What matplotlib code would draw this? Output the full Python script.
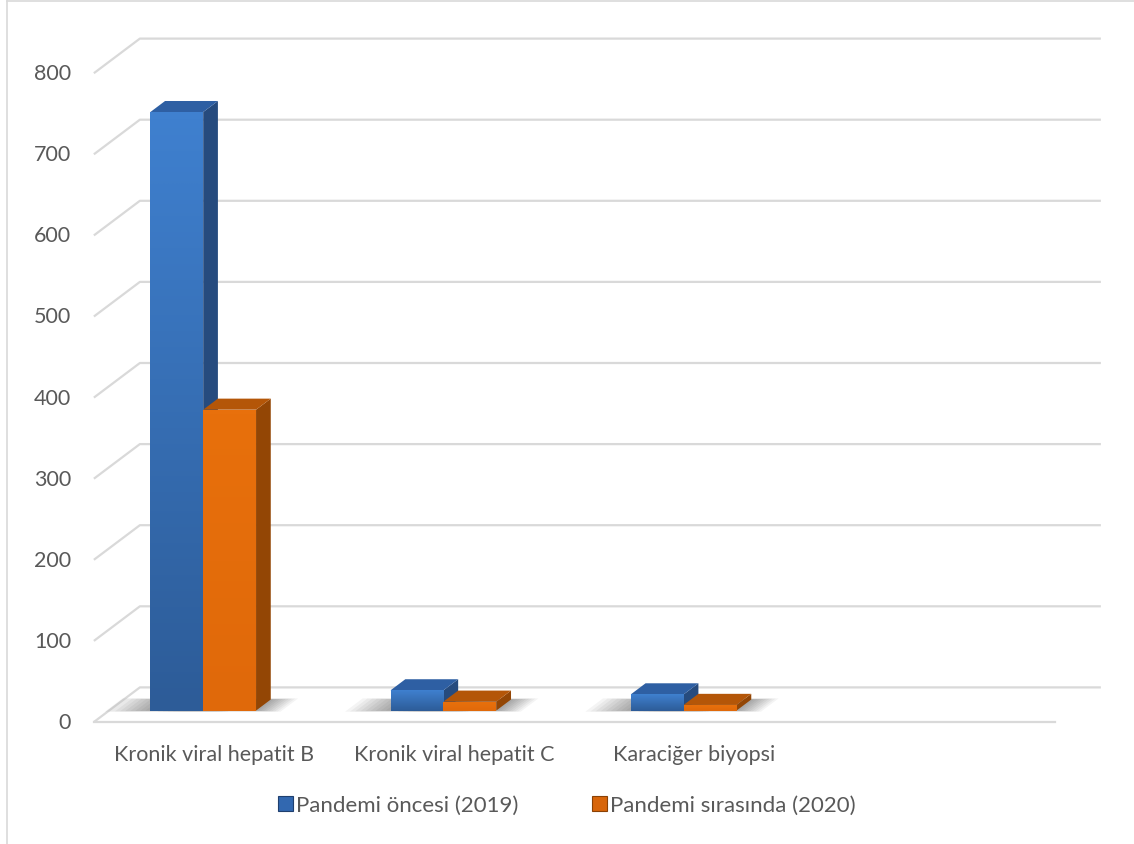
import numpy as np
import matplotlib
matplotlib.use("Agg")
import matplotlib.pyplot as plt
from matplotlib.patches import Polygon, Patch
from matplotlib.colors import LinearSegmentedColormap
from matplotlib.lines import Line2D

# data
categories = ["Kronik viral hepatit B", "Kronik viral hepatit C", "Karaciğer biyopsi"]
series_names = ["Pandemi öncesi (2019)", "Pandemi sırasında (2020)"]
before_2019 = [738, 25, 20]
during_2020 = [371, 11, 7]
y_ticks = [0, 100, 200, 300, 400, 500, 600, 700, 800]
n_slots = 4  # Excel left an empty 4th slot on the axis

# look
W, H = 1134, 845
grid_col = "#d9d9d9"
text_col = "#595959"
front_cols = [("#3f80cf", "#2d5c98"), ("#e8700c", "#e0690a")]
side_cols = ["#264b7e", "#934605"]
top_cols = ["#2e5fa3", "#b45608"]
legend_cols = ["#3268b0", "#d8650a"]
legend_edge = ["#1f3f6e", "#8a4105"]
FONT = ["Lato", "DejaVu Sans"]
FS = 15.5
FS_LEG = 16

# pseudo 3d geometry (category units / value units)
PX_X = 240.25          # pixels per category
PX_Y = 0.811           # pixels per value unit
X0, Y0 = 214, 723      # pixel of category 0 / value 0 at the front
DX, DY = 46 / PX_X, 34.6 / PX_Y   # full depth of the floor
F0, F1 = 0.33, 0.65    # bar depth range (fraction of floor depth)
BAR_W = 0.22
SHIFT = -0.045         # front faces pair centre vs category centre

plt.rcParams['font.family'] = FONT
fig = plt.figure(figsize=(W / 100, H / 100), dpi=100)
ax = fig.add_axes([0, 0, 1, 1])
ax.set_axis_off()


def proj(x, v, f):
    return (x + f * DX, v + f * DY)


# walls
left, right = -0.5, n_slots - 0.5
for v in y_ticks:
    a = proj(left, v, 0)
    b = proj(left, v, 1)
    c = proj(right, v, 1)
    ax.plot([a[0], b[0], c[0]], [a[1], b[1], c[1]], color=grid_col, lw=1.6,
            solid_capstyle="butt", zorder=1)
    ax.text(left - 0.095, v, str(v), ha="right", va="center", fontsize=FS,
            color=text_col)
ax.plot([left, right], [0, 0], color=grid_col, lw=1.6, zorder=1)


def bar(xl, val, k):
    xr = xl + BAR_W
    # soft shadow on the floor
    for s in range(9):
        e = 0.012 * (s + 1)
        pts = [proj(xl - e * 1.7, 0, F0 - e * 0.3), proj(xr + e * 1.0, 0, F0 - e * 0.3),
               proj(xr + e * 1.0, 0, F1 + e * 0.3), proj(xl - e * 1.7, 0, F1 + e * 0.3)]
        ax.add_patch(Polygon(pts, closed=True, facecolor="#000000", alpha=0.042,
                             lw=0, zorder=2))
    # side
    side = [proj(xr, 0, F0), proj(xr, 0, F1), proj(xr, val, F1), proj(xr, val, F0)]
    ax.add_patch(Polygon(side, closed=True, facecolor=side_cols[k], lw=0, zorder=3))
    # top
    top = [proj(xl, val, F0), proj(xr, val, F0), proj(xr, val, F1), proj(xl, val, F1)]
    ax.add_patch(Polygon(top, closed=True, facecolor=top_cols[k], lw=0, zorder=3))
    # front with vertical gradient
    fx0, fy0 = proj(xl, 0, F0)
    fx1, fy1 = proj(xr, val, F0)
    cmap = LinearSegmentedColormap.from_list("g", [front_cols[k][1], front_cols[k][0]])
    grad = np.linspace(0, 1, 64)[:, None]
    ax.imshow(grad, cmap=cmap, extent=[fx0, fx1, fy0, fy1], origin="lower",
              aspect="auto", interpolation="bilinear", zorder=4)


for i in range(len(categories)):
    base = i + SHIFT - BAR_W - F0 * DX
    bar(base, before_2019[i], 0)
    bar(base + BAR_W, during_2020[i], 1)
    ax.text(i, (Y0 - 755) / PX_Y, categories[i], ha="center", va="center",
            fontsize=FS, color=text_col)

ax.set_xlim(-X0 / PX_X, (W - X0) / PX_X)
ax.set_ylim((Y0 - H) / PX_Y, Y0 / PX_Y)

# legend
handles = [Patch(facecolor=legend_cols[k], edgecolor=legend_edge[k], lw=0.8)
           for k in range(2)]
fig.legend(handles, series_names, loc="center", bbox_to_anchor=(567 / W, 1 - 806 / H),
           ncol=2, frameon=False, fontsize=FS_LEG, labelcolor=text_col,
           handlelength=0.68, handleheight=0.68, handletextpad=0.15,
           columnspacing=3.3)

# chart border (left and top edges are visible)
fig.add_artist(Line2D([7 / W, 7 / W], [0, 1 - 2 / H], color=grid_col, lw=1.2))
fig.add_artist(Line2D([7 / W, 1], [1 - 2 / H, 1 - 2 / H], color=grid_col, lw=1.2))

fig.savefig("out.png", dpi=100)
